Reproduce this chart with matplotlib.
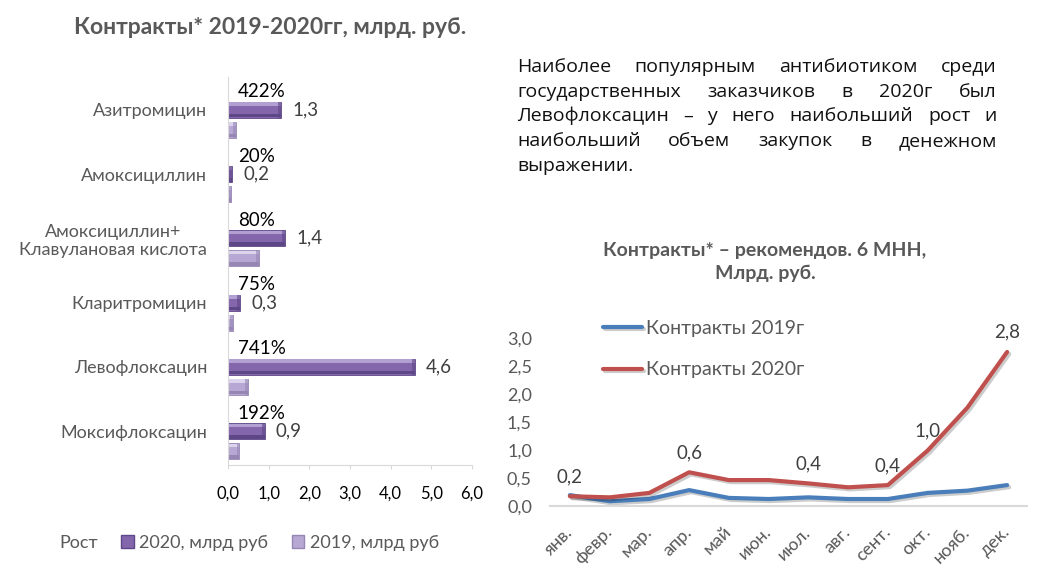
import matplotlib.pyplot as plt
import matplotlib.patheffects as pe
from matplotlib.patches import Patch

plt.rcParams['font.family'] = ['Lato', 'DejaVu Sans']

# bar chart data
drugs = ['Азитромицин', 'Амоксициллин', 'Амоксициллин+\nКлавулановая кислота',
         'Кларитромицин', 'Левофлоксацин', 'Моксифлоксацин']
val_2020 = [1.3, 0.1, 1.4, 0.3, 4.6, 0.9]
val_2019 = [0.2, 0.07, 0.75, 0.12, 0.5, 0.28]
val_2020_labels = ['1,3', '0,2', '1,4', '0,3', '4,6', '0,9']
growth = ['422%', '20%', '80%', '75%', '741%', '192%']
bar_ticks = [0, 1, 2, 3, 4, 5, 6]

# line chart data
months = ['янв.', 'февр.', 'мар.', 'апр.', 'май', 'июн.', 'июл.', 'авг.',
          'сент.', 'окт.', 'нояб.', 'дек.']
contr_2019 = [0.19, 0.08, 0.12, 0.28, 0.14, 0.12, 0.15, 0.12, 0.12, 0.23, 0.27, 0.37]
contr_2020 = [0.17, 0.15, 0.23, 0.60, 0.46, 0.46, 0.40, 0.33, 0.37, 0.99, 1.76, 2.76]
labelled = [0, 3, 6, 8, 9, 11]
line_ticks = [0, 0.5, 1.0, 1.5, 2.0, 2.5, 3.0]

para_lines = [
    'Наиболее популярным антибиотиком среди',
    'государственных заказчиков в 2020г был',
    'Левофлоксацин – у него наибольший рост и',
    'наибольший объем закупок в денежном',
    'выражении.',
]

W, H = 1039, 568
fig = plt.figure(figsize=(W / 100, H / 100), dpi=100)


def fx(px):
    return px / W


def fy(py):
    return 1 - py / H


GRAY = '#595959'
AXIS = '#d9d9d9'

# ---------- left: bars ----------
ax = fig.add_axes([fx(228), fy(465), fx(472) - fx(228), fy(77) - fy(465)])
ypos = list(range(len(drugs)))
y20 = [y - 0.155 for y in ypos]
y19 = [y + 0.155 for y in ypos]
bh = 0.25


def bevel_bars(ys, vals, light, mid, dark):
    ax.barh(ys, vals, height=bh, color=mid, edgecolor=dark, linewidth=0.6)
    ax.barh([y - bh * 0.36 for y in ys], vals, height=bh * 0.22, color=light, linewidth=0)
    ax.barh([y + bh * 0.36 for y in ys], vals, height=bh * 0.22, color=dark, linewidth=0)
    ax.barh(ys, [0.07] * len(vals), left=[v - 0.07 for v in vals], height=bh,
            color=dark, alpha=0.6, linewidth=0)


bevel_bars(y20, val_2020, '#b3a0d3', '#8466ad', '#5e4787')
bevel_bars(y19, val_2019, '#dcd3ec', '#b7a8d3', '#9586b4')

for v, y, lbl in zip(val_2020, y20, val_2020_labels):
    ax.annotate(lbl, (v, y), xytext=(8, 0), textcoords='offset points',
                ha='left', va='center', fontsize=13.5, color='#404040')
for y, g in zip(y20, growth):
    ax.text(0.24, y - 0.28, g, ha='left', va='center', fontsize=13.5, color='black')

ax.set_xlim(0, 6)
ax.set_ylim(5.37, -0.664)
ax.set_xticks(bar_ticks)
ax.set_xticklabels([f'{t:.1f}'.replace('.', ',') for t in bar_ticks], fontsize=12, color='black')
ax.set_yticks(y20)
ax.set_yticklabels(drugs, fontsize=13, color=GRAY, multialignment='center')
ax.tick_params(axis='y', length=0, pad=15)
ax.tick_params(axis='x', length=3, color=AXIS, pad=12)
for s in ['top', 'right']:
    ax.spines[s].set_visible(False)
for s in ['left', 'bottom']:
    ax.spines[s].set_color(AXIS)

handles = [Patch(facecolor='none', edgecolor='none'),
           Patch(facecolor='#8466ad', edgecolor='#5e4787'),
           Patch(facecolor='#b7a8d3', edgecolor='#9586b4')]
fig.legend(handles, ['Рост', '2020, млрд руб', '2019, млрд руб'], ncol=3,
           loc='center', bbox_to_anchor=(fx(240), fy(543)), frameon=False,
           fontsize=13, labelcolor=GRAY, handlelength=0.7, handleheight=0.7,
           handletextpad=0.3, columnspacing=1.3)

fig.text(fx(270), fy(28), 'Контракты* 2019-2020гг, млрд. руб.', ha='center', va='center',
         fontsize=16.5, fontweight='bold', color=GRAY)

# ---------- right: paragraph ----------
renderer = fig.canvas.get_renderer()
x0, x1 = 517, 997
for i, line in enumerate(para_lines):
    words = line.split(' ')
    base = 72 + i * 24.7
    texts = [fig.text(0, fy(base), w, fontsize=14, family=['Open Sans', 'DejaVu Sans'],
                      va='baseline', ha='left', color='#111111') for w in words]
    widths = [t.get_window_extent(renderer).width for t in texts]
    if i == len(para_lines) - 1 or len(words) == 1:
        gap = 5
    else:
        gap = (x1 - x0 - sum(widths)) / (len(words) - 1)
    x = x0
    for t, w in zip(texts, widths):
        t.set_x(fx(x))
        x += w + gap

fig.text(fx(765), fy(262), 'Контракты* – рекомендов. 6 МНН,\nМлрд. руб.', ha='center',
         va='center', fontsize=14, fontweight='bold', color=GRAY, linespacing=1.45)

# ---------- right: lines ----------
ax2 = fig.add_axes([fx(550), fy(505.7), fx(1027) - fx(550), fy(338.6) - fy(505.7)])
xs = list(range(len(months)))
shadow = [pe.SimpleLineShadow(offset=(1.5, -1.5), alpha=0.2), pe.Normal()]
ax2.plot(xs, contr_2019, color='#4a7ebb', lw=3, label='Контракты 2019г',
         solid_capstyle='round', path_effects=shadow)
ax2.plot(xs, contr_2020, color='#c0504d', lw=3, label='Контракты 2020г',
         solid_capstyle='round', path_effects=shadow)
for i in labelled:
    v = contr_2020[i]
    ax2.annotate(f'{v:.1f}'.replace('.', ','), (i, v), xytext=(0, 8),
                 textcoords='offset points', ha='center', va='bottom',
                 fontsize=13.5, color='#404040')

ax2.set_xlim(-0.5, 11.5)
ax2.set_ylim(0, 3.0)
ax2.set_yticks(line_ticks)
ax2.set_yticklabels([f'{t:.1f}'.replace('.', ',') for t in line_ticks], fontsize=13, color=GRAY)
ax2.set_xticks(xs)
ax2.set_xticklabels(months, rotation=45, ha='right', va='center', rotation_mode='anchor',
                    fontsize=13, color=GRAY)
ax2.tick_params(axis='y', length=0, pad=13)
ax2.tick_params(axis='x', length=0, pad=17)
for s in ['top', 'right', 'left']:
    ax2.spines[s].set_visible(False)
ax2.spines['bottom'].set_color(AXIS)
ax2.spines['bottom'].set_linewidth(1.5)

ax2.legend(loc='upper left', bbox_to_anchor=(fx(603), fy(320)),
           bbox_transform=fig.transFigure, frameon=False, fontsize=14,
           labelcolor=GRAY, handlelength=2.0, handletextpad=0.2, labelspacing=1.25,
           borderpad=0, borderaxespad=0)

fig.savefig('out.png', dpi=100)
